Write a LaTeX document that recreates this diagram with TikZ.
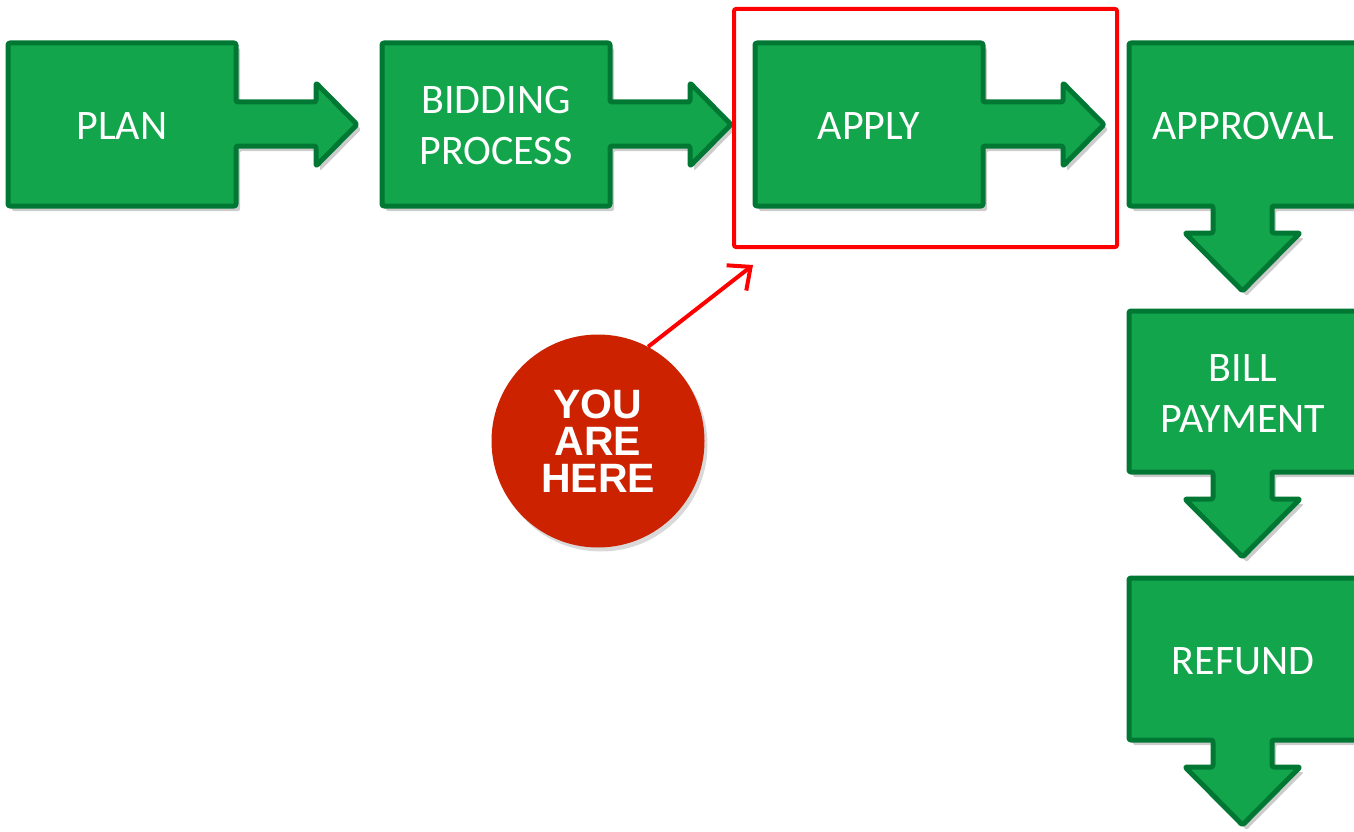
\documentclass[tikz,border=0pt]{standalone}
\usepackage{fontspec}
\setmainfont{Carlito}
\newfontfamily\herefont{Liberation Sans}
\usetikzlibrary{shadows,arrows.meta}
\definecolor{boxgreen}{RGB}{19,165,75}
\definecolor{boxdark}{RGB}{0,120,52}
\definecolor{herered}{RGB}{204,34,0}
\tikzset{
  stepshape/.style={fill=boxgreen, draw=boxdark, line width=5pt, rounded corners=2pt, line join=round,
    drop shadow={shadow xshift=4pt, shadow yshift=-5pt, fill=black, opacity=0.2}},
  steplabel/.style={text=white, font=\fontsize{42}{51}\selectfont, align=center, inner sep=0pt},
  focusbox/.style={draw=red, line width=4pt, rounded corners=2pt, inner sep=0pt, minimum width=383pt, minimum height=238pt},
  herebadge/.style={circle, fill=herered, inner sep=0pt, minimum size=213pt, text=white, align=center,
    font=\herefont\bfseries\fontsize{41}{37}\selectfont,
    drop shadow={shadow xshift=3pt, shadow yshift=-4pt, fill=black, opacity=0.15}},
  pointer/.style={draw=red, line width=4pt, -{Straight Barb[length=18pt,width=32pt,line width=4pt]}}
}
\begin{document}
\begin{tikzpicture}[x=1pt,y=-1pt]
\useasboundingbox (0,0) rectangle (1354,832);
% horizontal arrow boxes
\foreach \x in {8,382,755}{
  \path[stepshape] (\x,43) -- (\x+228,43) -- (\x+228,102) -- (\x+308,102) -- (\x+308,83)
    -- (\x+349,124.5) -- (\x+308,166) -- (\x+308,146) -- (\x+228,146) -- (\x+228,206) -- (\x,206) -- cycle;
}
% vertical arrow boxes
\foreach \yt/\yb in {43/206,311/472,578/740}{
  \path[stepshape] (1129,\yt) -- (1360,\yt) -- (1360,\yb) -- (1272,\yb) -- (1272,\yb+27) -- (1300,\yb+27)
    -- (1242.5,\yb+85) -- (1185,\yb+27) -- (1213,\yb+27) -- (1213,\yb) -- (1129,\yb) -- cycle;
}
\node[steplabel] (plan) at (122,126) {PLAN};
\node[steplabel] (bid) at (496,126) {BIDDING\\PROCESS};
\node[steplabel] (apply) at (869,126) {APPLY};
\node[steplabel] (approval) at (1243,126) {APPROVAL};
\node[steplabel] (bill) at (1243,394) {BILL\\PAYMENT};
\node[steplabel] (refund) at (1243,661) {REFUND};
% focus frame
\node[focusbox] (focus) at (925.5,128) {};
% you are here badge
\node[herebadge] (here) at (598,441) {YOU\\ARE\\HERE};
\coordinate (tipc) at (753,265);
\draw[pointer] (here.62) -- (tipc);
\end{tikzpicture}
\end{document}
